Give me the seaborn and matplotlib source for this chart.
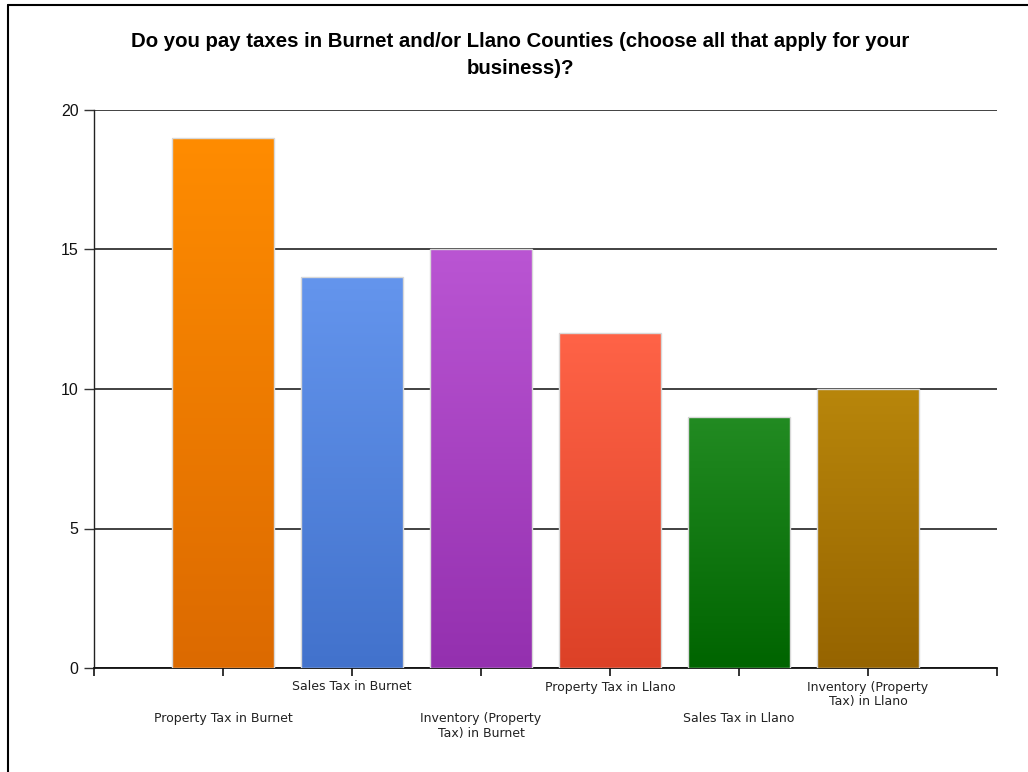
import numpy as np
import pandas as pd
import matplotlib
matplotlib.use("Agg")
import matplotlib.pyplot as plt
import matplotlib.colors as mcolors
import seaborn as sns

categories = [
    "Property Tax in Burnet",
    "Sales Tax in Burnet",
    "Inventory (Property\nTax) in Burnet",
    "Property Tax in Llano",
    "Sales Tax in Llano",
    "Inventory (Property\nTax) in Llano",
]
counts = [19, 14, 15, 12, 9, 10]
top_colors = ["#FF8C00", "#6495ED", "#BA55D3", "#FF6347", "#228B22", "#B8860B"]
bottom_colors = ["#DC6A00", "#4272CC", "#9430AF", "#DC4127", "#006400", "#966400"]
title = "Do you pay taxes in Burnet and/or Llano Counties (choose all that apply for your\nbusiness)?"

df = pd.DataFrame({"category": categories, "count": counts})

sns.set_style("white")
plt.rcParams["font.family"] = ["Liberation Sans", "DejaVu Sans"]

fig = plt.figure(figsize=(10.28, 7.72), dpi=100)
ax = fig.add_axes([94 / 1028, 1 - 668 / 772, (997 - 94) / 1028, (668 - 110) / 772])

sns.barplot(data=df, x="category", y="count", hue="category", palette=top_colors,
            legend=False, width=0.79, edgecolor="#d8d8d8", linewidth=1, ax=ax, zorder=3)

# vertical gradient fill for each bar
for patch, c_top, c_bot in zip(ax.patches, top_colors, bottom_colors):
    x0, y0 = patch.get_x(), patch.get_y()
    w, h = patch.get_width(), patch.get_height()
    cmap = mcolors.LinearSegmentedColormap.from_list("g", [c_bot, c_top])
    grad = np.linspace(0, 1, 256).reshape(-1, 1)
    im = ax.imshow(grad, cmap=cmap, aspect="auto", origin="lower",
                   extent=[x0, x0 + w, y0, y0 + h], zorder=3)
    im.set_clip_path(patch)
    patch.set_facecolor("none")
    patch.set_zorder(4)

ax.set_xlim(-1, 6)
ax.set_ylim(0, 20)
ax.set_yticks([0, 5, 10, 15, 20])
ax.set_xticks(range(-1, 7))
ax.set_xticklabels([""] + categories + [""], fontsize=9, color="#222222",
                   family=["DejaVu Sans"])
ax.set_xlabel("")
ax.set_ylabel("")

ax.grid(axis="y", color="#333333", linewidth=1.3, zorder=0)
ax.set_axisbelow(True)
for s in ["top", "right"]:
    ax.spines[s].set_visible(False)
ax.spines["left"].set_color("#222222")
ax.spines["bottom"].set_color("#111111")
ax.spines["left"].set_linewidth(1)
ax.spines["bottom"].set_linewidth(1.3)

ax.tick_params(axis="x", direction="out", length=6, width=1.2, color="#111111", bottom=True)
ax.tick_params(axis="y", direction="out", length=7, width=1, color="#333333", left=True,
               labelsize=11.5, pad=4, labelcolor="#111111")

# staggered category labels
ticks = ax.xaxis.get_major_ticks()
for i, t in enumerate(ticks[1:-1]):
    t.set_pad(26 if i % 2 == 0 else 3)

fig.suptitle(title, x=0.506, y=0.958, fontsize=14.7, fontweight="bold", va="top",
             linespacing=1.5, color="black")

# outer frame
fig.add_artist(plt.Line2D([8 / 1028, 8 / 1028], [0, 1 - 5 / 772], color="black", lw=1.5))
fig.add_artist(plt.Line2D([8 / 1028, 1], [1 - 5 / 772, 1 - 5 / 772], color="black", lw=1.5))

fig.savefig("out.png", dpi=100)
